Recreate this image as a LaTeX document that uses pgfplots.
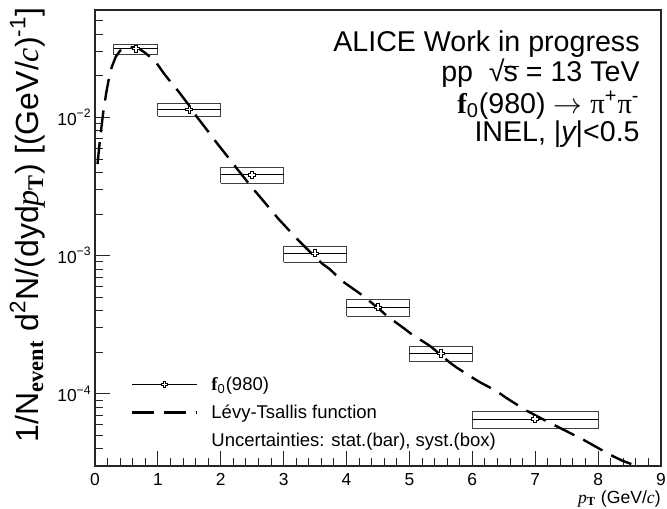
\documentclass[border=0pt]{standalone}
\usepackage{pgfplots}
\pgfplotsset{compat=1.18}
\usepackage{fontspec}
\setmainfont{Liberation Sans}
\newfontfamily\serif{Liberation Serif}

% outlined cross marker
\pgfdeclareplotmark{opencross}{%
  \pgfpathmoveto{\pgfqpoint{-0.35\pgfplotmarksize}{\pgfplotmarksize}}%
  \pgfpathlineto{\pgfqpoint{0.35\pgfplotmarksize}{\pgfplotmarksize}}%
  \pgfpathlineto{\pgfqpoint{0.35\pgfplotmarksize}{0.35\pgfplotmarksize}}%
  \pgfpathlineto{\pgfqpoint{\pgfplotmarksize}{0.35\pgfplotmarksize}}%
  \pgfpathlineto{\pgfqpoint{\pgfplotmarksize}{-0.35\pgfplotmarksize}}%
  \pgfpathlineto{\pgfqpoint{0.35\pgfplotmarksize}{-0.35\pgfplotmarksize}}%
  \pgfpathlineto{\pgfqpoint{0.35\pgfplotmarksize}{-\pgfplotmarksize}}%
  \pgfpathlineto{\pgfqpoint{-0.35\pgfplotmarksize}{-\pgfplotmarksize}}%
  \pgfpathlineto{\pgfqpoint{-0.35\pgfplotmarksize}{-0.35\pgfplotmarksize}}%
  \pgfpathlineto{\pgfqpoint{-\pgfplotmarksize}{-0.35\pgfplotmarksize}}%
  \pgfpathlineto{\pgfqpoint{-\pgfplotmarksize}{0.35\pgfplotmarksize}}%
  \pgfpathlineto{\pgfqpoint{-0.35\pgfplotmarksize}{0.35\pgfplotmarksize}}%
  \pgfpathclose
  \pgfusepathqfillstroke
}

% f0(980) spectrum: pT, yield, bin half-widths, stat. and syst. limits
\pgfplotstableread{
x    y        exm   exp   stat      sysl      sysh
0.65 0.0315   0.35  0.35  0.0004    0.0284    0.0338
1.5  0.0114   0.5   0.5   0.00015   0.0102    0.0127
2.5  0.00385  0.5   0.5   0.00005   0.00334   0.00436
3.5  0.00104  0.5   0.5   0.000015  0.000893  0.001167
4.5  0.000422 0.5   0.5   0.000006  0.000363  0.000482
5.5  0.000196 0.5   0.5   0.000003  0.000171  0.000220
7.0  0.0000656 1.0  1.0   0.0000012 0.0000564 0.0000744
}\spectrum

% Levy-Tsallis fit curve
\pgfplotstableread{
x     y
0.04  0.0046
0.08  0.0070
0.13  0.0108
0.18  0.0152
0.22  0.0190
0.265 0.0231
0.33  0.0275
0.40  0.0305
0.48  0.0320
0.56  0.0324
0.65  0.0320
0.71  0.0313
0.80  0.0293
0.93  0.0262
0.98  0.0247
1.10  0.0207
1.24  0.0172
1.32  0.0156
1.51  0.0120
1.62  0.0101
1.85  0.0074
1.93  0.0066
2.17  0.0048
2.25  0.0043
2.50  0.0031
2.83  0.00206
2.91  0.00186
3.20  0.00134
3.28  0.00123
3.54  0.00094
3.62  0.00087
3.73  0.00080
3.94  0.00065
4.26  0.000513
4.52  0.000411
4.63  0.000370
4.92  0.000296
5.03  0.000271
5.32  0.000223
5.42  0.000205
5.63  0.000170
5.74  0.000156
6.00  0.000131
6.11  0.000122
6.38  0.000105
6.53  0.000094
6.85  0.000076
7.22  0.000062
7.38  0.000057
7.75  0.0000469
8.20  0.0000360
8.39  0.0000327
8.65  0.0000296
8.80  0.0000278
}\levy

\begin{document}
\begin{tikzpicture}
\useasboundingbox (-47.5pt,-21pt) rectangle (286pt,233pt);
\begin{axis}[
  at={(0,0)}, anchor=south west,
  scale only axis, width=283pt, height=228pt,
  ymode=log, xmin=0, xmax=9, ymin=3e-5, ymax=0.06,
  axis line style={line width=0.6pt, black!85},
  tick align=inside, tick pos=left,
  xtick={0,1,...,9}, minor x tick num=4,
  xticklabels={0,1,2,3,4,5,6,7,8,9},
  ytick={1e-4,1e-3,1e-2},
  yticklabels={10\textsuperscript{−4},10\textsuperscript{−3},10\textsuperscript{−2}},
  minor ytick={4e-5,5e-5,6e-5,7e-5,8e-5,9e-5,
    2e-4,3e-4,4e-4,5e-4,6e-4,7e-4,8e-4,9e-4,
    2e-3,3e-3,4e-3,5e-3,6e-3,7e-3,8e-3,9e-3,
    2e-2,3e-2,4e-2,5e-2},
  major tick length=7.5pt, minor tick length=3.8pt,
  tick style={line width=0.5pt, black!85},
  ticklabel style={font=\fontsize{8.7}{10}\selectfont},
  xticklabel style={inner sep=0pt, yshift=-3.5pt},
  yticklabel style={inner sep=0pt, xshift=-1.5pt},
  legend style={draw=none, fill=none, at={(rel axis cs:0.063,0.204)}, anchor=north west,
    inner sep=0pt, row sep=3pt, column sep=6.5pt,
    nodes={inner sep=0pt, text height=8.5pt, text depth=2.5pt, font=\fontsize{9.25}{11}\selectfont}},
  legend cell align=left,
]
\addlegendimage{legend image code/.code={%
  \draw[line width=0.5pt, black] (0pt,0pt) -- (32.5pt,0pt);
  \draw[black, fill=white, line width=0.5pt, mark=opencross, mark size=1.6pt] plot coordinates {(16.25pt,0pt)};}}
\addlegendentry{{\serif\bfseries f}\textsubscript{0}(980)}
\addlegendimage{legend image code/.code={%
  \draw[line width=1.2pt, dash pattern=on 11pt off 5pt] (0pt,0pt) -- (32.5pt,0pt);}}
\addlegendentry{Lévy-Tsallis function}
\addlegendimage{empty legend}
\addlegendentry{Uncertainties: stat.(bar), syst.(box)}

% systematic boxes
\addplot[forget plot, black!75, line width=0.5pt] coordinates {(0.3,0.0284) (1,0.0284) (1,0.0338) (0.3,0.0338) (0.3,0.0284)};
\addplot[forget plot, black!75, line width=0.5pt] coordinates {(1,0.0102) (2,0.0102) (2,0.0127) (1,0.0127) (1,0.0102)};
\addplot[forget plot, black!75, line width=0.5pt] coordinates {(2,0.00334) (3,0.00334) (3,0.00436) (2,0.00436) (2,0.00334)};
\addplot[forget plot, black!75, line width=0.5pt] coordinates {(3,0.000893) (4,0.000893) (4,0.001167) (3,0.001167) (3,0.000893)};
\addplot[forget plot, black!75, line width=0.5pt] coordinates {(4,0.000363) (5,0.000363) (5,0.000482) (4,0.000482) (4,0.000363)};
\addplot[forget plot, black!75, line width=0.5pt] coordinates {(5,0.000171) (6,0.000171) (6,0.000220) (5,0.000220) (5,0.000171)};
\addplot[forget plot, black!75, line width=0.5pt] coordinates {(6,0.0000564) (8,0.0000564) (8,0.0000744) (6,0.0000744) (6,0.0000564)};

% fit
\addplot[forget plot, black, line width=1.2pt, dash pattern=on 11pt off 5pt] table[x=x, y=y] {\levy};

% data with stat. errors and bin widths
\addplot[forget plot, only marks, mark=opencross, mark size=1.8pt,
  mark options={black, fill=white, line width=0.5pt},
  error bars/.cd, x dir=both, x explicit, y dir=both, y explicit,
  error mark=none, error bar style={line width=0.5pt, black}]
  table[x=x, y=y, x error minus=exm, x error plus=exp, y error=stat] {\spectrum};
\end{axis}

% y-axis title
\node[rotate=90, anchor=base east, inner sep=0pt] at (-28.5pt,229.5pt)
  {\fontsize{16}{19}\selectfont 1/N\textsubscript{\serif\bfseries event} d\textsuperscript{2}N/(dyd{\serif\itshape p}\textsubscript{\serif\bfseries T}) [(GeV/{\serif\itshape c})\textsuperscript{-1}]};
% x-axis title
\node[anchor=base east, inner sep=0pt] at (283pt,-18.5pt)
  {\fontsize{8.8}{10}\selectfont {\serif\itshape p}\textsubscript{\serif\bfseries T} (GeV/{\serif\itshape c})};

% caption lines
\begin{scope}[every node/.style={anchor=base east, inner sep=0pt, font=\fontsize{14.3}{16}\selectfont}]
\node at (272.5pt,207.3pt) {ALICE Work in progress};
\node at (272.5pt,192.2pt) {pp \ √\kern-0.5pt\rlap{\rule[7.4pt]{0.55em}{0.5pt}}s = 13 TeV};
\node at (272.5pt,176.3pt) {{\serif\bfseries f}\textsubscript{0}(980) $\rightarrow$ {\serif π}\textsuperscript{+}{\serif π}\textsuperscript{-}};
\node at (272.5pt,162.3pt) {INEL, |{\itshape y}|<0.5};
\end{scope}
\end{tikzpicture}
\end{document}
